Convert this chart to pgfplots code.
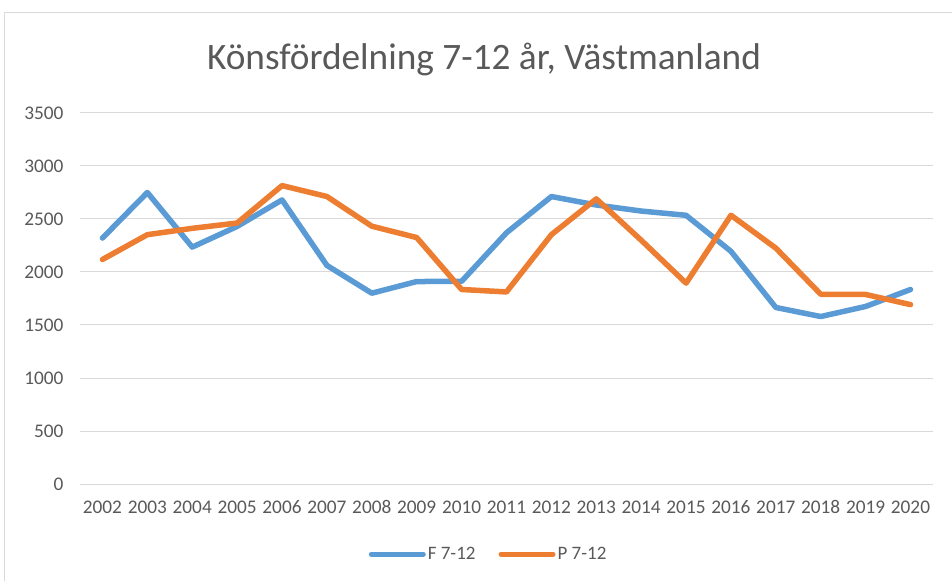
\documentclass[border=0pt]{standalone}
\usepackage{pgfplots}
\pgfplotsset{compat=1.18}
\usepackage{fontspec}
\setmainfont{Carlito}
\definecolor{fblue}{HTML}{5B9BD5}
\definecolor{porange}{HTML}{ED7D31}
\definecolor{txt}{HTML}{595959}
\definecolor{grd}{HTML}{D9D9D9}
\begin{document}
\begin{tikzpicture}[x=1pt,y=1pt]
\useasboundingbox (0,0) rectangle (952,581);
\draw[grd, line width=1pt] (4.5,0) -- (4.5,568.5) -- (952,568.5);
\node[txt, font=\fontsize{37.3}{44}\selectfont] at (484,522) {Könsfördelning 7-12 år, Västmanland};
\begin{axis}[
  at={(80pt,97pt)}, anchor=south west,
  scale only axis, width=853pt, height=371pt,
  xmin=2001.5, xmax=2020.5, ymin=0, ymax=3500,
  xtick={2002,...,2020}, ytick={0,500,...,3500},
  /pgf/number format/assume math mode=true,
  /pgf/number format/1000 sep={},
  ticklabel style={font=\fontsize{19.3}{22}\selectfont, text=txt},
  yticklabel style={xshift=-13pt},
  xticklabel style={yshift=-13pt},
  axis line style={draw=none},
  major tick length=0pt,
  ymajorgrids, major grid style={grd, line width=1pt},
  legend style={at={(0.479,-0.189)}, anchor=center, draw=none, fill=none,
    font=\fontsize{19}{22}\selectfont, text=txt,
    /tikz/every even column/.append style={column sep=21pt}},
  legend columns=2,
  legend cell align=left,
  legend image code/.code={\draw[#1, line cap=round, line width=5pt] (0pt,0pt) -- (52pt,0pt);},
]
\addplot[fblue, line width=5.5pt, line join=round, line cap=round] coordinates {
(2002,2320)(2003,2750)(2004,2235)(2005,2430)(2006,2680)(2007,2062)(2008,1800)(2009,1910)(2010,1912)(2011,2370)(2012,2712)(2013,2632)(2014,2575)(2015,2535)(2016,2195)(2017,1665)(2018,1580)(2019,1675)(2020,1835)};
\addlegendentry{F 7-12}
\addplot[porange, line width=5.5pt, line join=round, line cap=round] coordinates {
(2002,2118)(2003,2352)(2004,2412)(2005,2462)(2006,2815)(2007,2712)(2008,2432)(2009,2325)(2010,1835)(2011,1812)(2012,2352)(2013,2690)(2014,2300)(2015,1895)(2016,2535)(2017,2225)(2018,1790)(2019,1788)(2020,1692)};
\addlegendentry{P 7-12}
\end{axis}
\end{tikzpicture}
\end{document}
